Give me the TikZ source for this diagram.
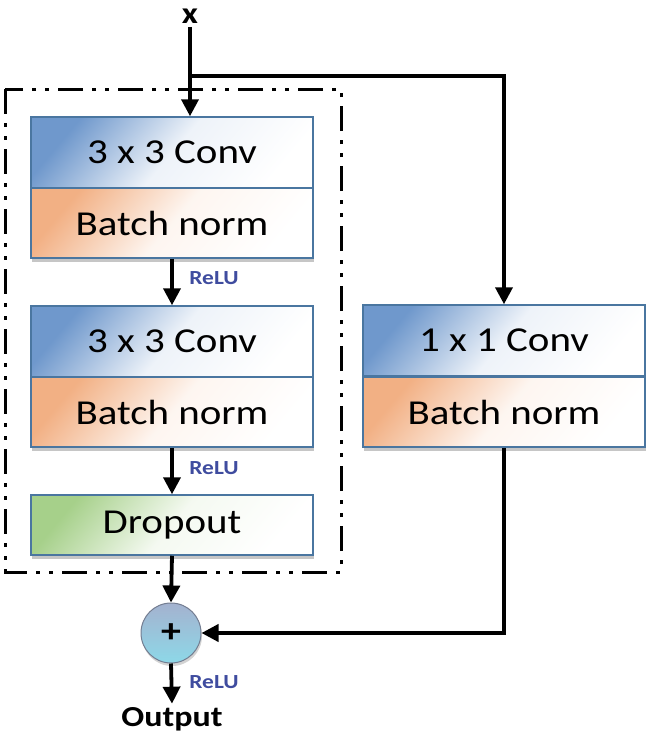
\documentclass[tikz,border=0pt]{standalone}
\usepackage{fontspec}
\setmainfont{Carlito}[FakeStretch=1.17]
\usetikzlibrary{arrows.meta,shadows}
\definecolor{convblue}{HTML}{6F98CC}
\definecolor{bnorange}{HTML}{F2B084}
\definecolor{dropgreen}{HTML}{A6D08A}
\definecolor{boxline}{HTML}{4A76A0}
\definecolor{relublue}{HTML}{3F4C9F}
\definecolor{addtop}{HTML}{A4B2CF}
\definecolor{addbot}{HTML}{8DD8E8}
\tikzset{
 layer/.style={draw=boxline, line width=1.5pt, minimum width=282pt, inner sep=0pt,
   font=\fontsize{35}{38}\selectfont,
   drop shadow={shadow xshift=1pt, shadow yshift=-4pt, opacity=.45}},
 conv/.style={layer, minimum height=71pt, left color=convblue, right color=white,
   middle color=convblue!12, shading angle=50},
 bnorm/.style={layer, minimum height=70pt, left color=bnorange, right color=white,
   middle color=bnorange!12, shading angle=50},
 drop/.style={layer, minimum height=60pt, left color=dropgreen, right color=white,
   middle color=dropgreen!12, shading angle=50},
 arr/.style={line width=3.8pt, -{Triangle[length=17pt,width=17pt]}},
 relu/.style={font=\bfseries\fontsize{20}{20}\selectfont, text=relublue},
}
\begin{document}
\begin{tikzpicture}[x=1pt,y=-1pt]
\useasboundingbox (0,0) rectangle (650,740);
% dash-dot frame round the main path
\draw[line width=3pt, dash pattern=on 25pt off 9pt on 4pt off 9pt on 4pt off 9pt]
  (5,89) rectangle (341,572);
% main path
\node[conv] (conv1) at (172,152.5) {3 x 3 Conv};
\node[bnorm] (bn1) at (172,223) {Batch norm};
\node[conv] (conv2) at (172,341.5) {3 x 3 Conv};
\node[bnorm] (bn2) at (172,412) {Batch norm};
\node[drop] (drop) at (172,525) {Dropout};
% shortcut
\node[conv] (conv3) at (504,340.5) {1 x 1 Conv};
\node[bnorm] (bn3) at (504,412) {Batch norm};
% sum and labels
\node[circle, draw=addtop!70!black, line width=1pt, minimum size=60pt, inner sep=0pt,
  top color=addtop, bottom color=addbot,
  drop shadow={shadow xshift=1pt, shadow yshift=-3pt, opacity=.35},
  font=\bfseries\fontsize{34}{34}\selectfont] (add) at (171,633) {+};
\node[font=\bfseries\fontsize{30}{30}\selectfont] (x) at (190,16) {x};
\node[font=\bfseries\fontsize{29}{30}\selectfont] (out) at (172,719) {Output};
\node[relu] (r1) at (214,278) {ReLU};
\node[relu] (r2) at (214,468) {ReLU};
\node[relu] (r3) at (214,682) {ReLU};
\coordinate (split) at (190,76);
% connectors
\draw[arr] (x.south) -- (x.south |- conv1.north);
\draw[arr] (split) -| (conv3.north);
\draw[arr] (bn1.south) -- (conv2.north);
\draw[arr] (bn2.south) -- (drop.north);
\draw[arr] (drop.south) -- (add.north);
\draw[arr] (bn3.south) |- (add.east);
\draw[arr] (add.south) -- (out.north);
\end{tikzpicture}
\end{document}
